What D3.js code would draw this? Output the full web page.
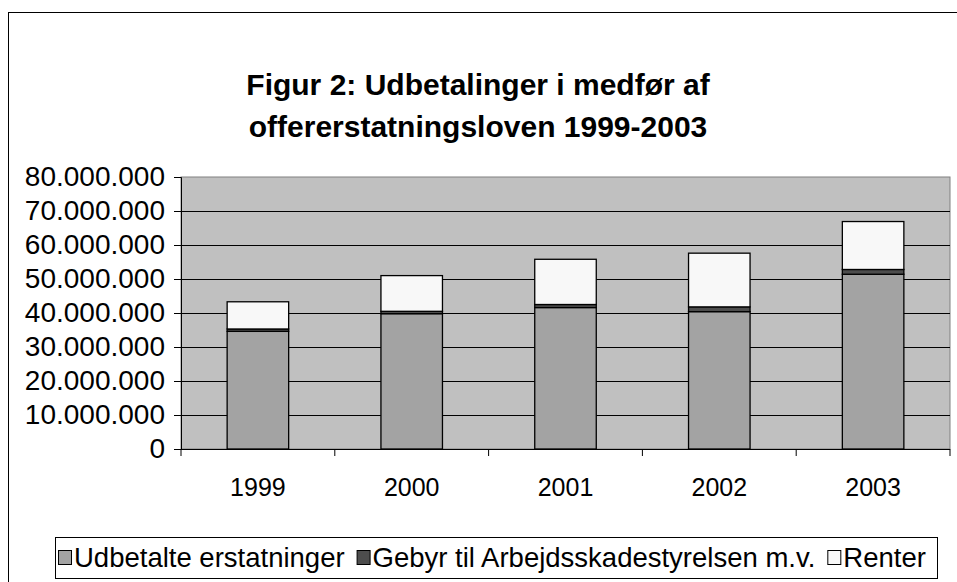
<!DOCTYPE html>
<html>
<head>
<meta charset="utf-8">
<script src="https://cdn.jsdelivr.net/npm/d3@7"></script>
<style>
  body { margin: 0; background: #fff; }
  svg { display: block; font-family: "Liberation Sans", Arial, sans-serif; }
</style>
</head>
<body>
<svg id="chart" width="957" height="582"></svg>
<script>
// DATA
const years = ["1999", "2000", "2001", "2002", "2003"];
const udbetalte = [34600000, 39800000, 41600000, 40400000, 51400000];
const gebyr = [700000, 700000, 900000, 1400000, 1400000];
const renter = [8000000, 10500000, 13300000, 15800000, 14100000];
const seriesNames = ["Udbetalte erstatninger", "Gebyr til Arbejdsskadestyrelsen m.v.", "Renter"];
const yTicks = [0, 10000000, 20000000, 30000000, 40000000, 50000000, 60000000, 70000000, 80000000];
const titleLines = ["Figur 2: Udbetalinger i medfør af", "offererstatningsloven 1999-2003"];

const colors = ["#a3a3a3", "#4d4d4d", "#f8f8f8"];

// SETUP
let svg = d3.select("#chart");
let margin = { top: 177, left: 181, right: 957 - 950, bottom: 582 - 449 };
let width = 957 - margin.left - margin.right,
    height = 582 - margin.top - margin.bottom;

// outer frame
svg.append("rect")
    .attr("x", 8.5).attr("y", 12.5)
    .attr("width", 970).attr("height", 600)
    .attr("fill", "#fff").attr("stroke", "#000").attr("stroke-width", 1);

// title
svg.append("text")
    .attr("x", 478).attr("y", 95)
    .attr("text-anchor", "middle")
    .style("font-size", "30px").style("font-weight", "bold")
    .selectAll("tspan")
    .data(titleLines)
    .enter().append("tspan")
    .attr("x", 478)
    .attr("dy", (d, i) => i === 0 ? 0 : 42)
    .text(d => d);

let x = d3.scaleBand().domain(years).range([0, width]).paddingInner(0.6).paddingOuter(0.3);
let y = d3.scaleLinear().domain([0, 80000000]).range([height, 0]);

let g = svg.append("g")
    .attr("transform", "translate(" + margin.left + "," + margin.top + ")");

// plot background
g.append("rect")
    .attr("width", width).attr("height", height)
    .attr("fill", "#c0c0c0").attr("stroke", "#808080");

// gridlines
g.selectAll(".grid")
    .data(yTicks.filter(d => d > 0 && d < 80000000))
    .enter().append("line")
    .attr("x1", 0).attr("x2", width)
    .attr("y1", d => Math.round(y(d)) + 0.5).attr("y2", d => Math.round(y(d)) + 0.5)
    .attr("stroke", "#000");

// stacked bars
let table = years.map((yr, i) => ({ year: yr, u: udbetalte[i], g: gebyr[i], r: renter[i] }));
let stack = d3.stack().keys(["u", "g", "r"])(table);

g.selectAll(".layer")
    .data(stack)
    .enter().append("g")
    .attr("fill", (d, i) => colors[i])
    .selectAll("rect")
    .data(d => d)
    .enter().append("rect")
    .attr("x", d => x(d.data.year))
    .attr("y", d => y(d[1]))
    .attr("width", x.bandwidth())
    .attr("height", d => y(d[0]) - y(d[1]))
    .attr("stroke", "#000").attr("stroke-width", 1.3);

// y axis
let yAxis = g.append("g")
    .call(d3.axisLeft(y).tickValues(yTicks).tickSize(7).tickPadding(9)
        .tickFormat(d => d === 0 ? "0" : d3.format(",")(d).replace(/,/g, ".")));
yAxis.select(".domain").attr("stroke", "#000");
yAxis.selectAll("text").style("font-size", "28px").attr("fill", "#000")
    .style("font-family", "'Liberation Sans', Arial, sans-serif");

// x axis, ticks between categories
let xAxis = g.append("g")
    .attr("transform", "translate(0," + height + ")");
xAxis.append("line")
    .attr("x1", 0).attr("x2", width).attr("y1", 0.5).attr("y2", 0.5)
    .attr("stroke", "#000");
let step = x.step();
xAxis.selectAll(".tk")
    .data(d3.range(years.length + 1))
    .enter().append("line")
    .attr("x1", i => x(years[0]) - x.paddingOuter() * step + i * step)
    .attr("x2", i => x(years[0]) - x.paddingOuter() * step + i * step)
    .attr("y1", 0).attr("y2", 7)
    .attr("stroke", "#000");
xAxis.selectAll(".lbl")
    .data(years)
    .enter().append("text")
    .attr("x", d => x(d) + x.bandwidth() / 2)
    .attr("y", 47)
    .attr("text-anchor", "middle")
    .style("font-size", "25px")
    .text(d => d);

// legend
let legend = svg.append("g").attr("transform", "translate(55,537)");
legend.append("rect")
    .attr("x", 0.5).attr("y", 0.5).attr("width", 882).attr("height", 41)
    .attr("fill", "#fff").attr("stroke", "#000");
let items = legend.selectAll(".item")
    .data(seriesNames)
    .enter().append("g");
items.append("rect")
    .attr("x", 0.5).attr("y", 13.5).attr("width", 13).attr("height", 14)
    .attr("fill", (d, i) => colors[i]).attr("stroke", "#000");
items.append("text")
    .attr("x", 16).attr("y", 30)
    .style("font-size", "27.5px")
    .text(d => d);
// lay items out one after the other
let lx = 3;
items.each(function () {
    d3.select(this).attr("transform", "translate(" + lx + ",0)");
    lx += 16 + d3.select(this).select("text").node().getComputedTextLength() + 12;
});
</script>
</body>
</html>
